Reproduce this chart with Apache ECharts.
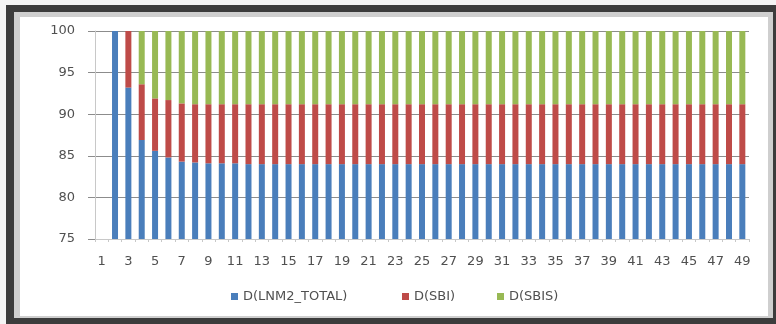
<!DOCTYPE html>
<html>
<head>
<meta charset="utf-8">
<script src="https://cdn.jsdelivr.net/npm/echarts@6/dist/echarts.min.js"></script>
<style>
  html, body { margin: 0; padding: 0; width: 776px; height: 324px; background: #f4f4f4; overflow: hidden; }
  .frame { position: absolute; left: 6px; top: 5px; right: 0; bottom: 0; background: #3c3c3c; }
  .bevel { position: absolute; left: 14px; top: 12px; right: 3px; bottom: 6px; background: #cfcfcf; }
  .panel { position: absolute; left: 20px; top: 17px; right: 8px; bottom: 8px; background: #ffffff; }
  #chart { position: absolute; left: 0; top: 0; width: 776px; height: 324px; }
</style>
</head>
<body>
<div class="frame"></div>
<div class="bevel"></div>
<div class="panel"></div>
<div id="chart"></div>
<script>
// Periods 1..49
const categories = [
  '1','2','3','4','5','6','7','8','9','10',
  '11','12','13','14','15','16','17','18','19','20',
  '21','22','23','24','25','26','27','28','29','30',
  '31','32','33','34','35','36','37','38','39','40',
  '41','42','43','44','45','46','47','48','49'
];

// Variance decomposition shares (percent), stacked to 100
const lnm2Total = [
  null, 100, 93.2, 86.9, 85.6, 84.8, 84.3, 84.2, 84.1, 84.1,
  84.1, 84.0, 84.0, 84.0, 84.0, 84.0, 84.0, 84.0, 84.0, 84.0,
  84.0, 84.0, 84.0, 84.0, 84.0, 84.0, 84.0, 84.0, 84.0, 84.0,
  84.0, 84.0, 84.0, 84.0, 84.0, 84.0, 84.0, 84.0, 84.0, 84.0,
  84.0, 84.0, 84.0, 84.0, 84.0, 84.0, 84.0, 84.0, 84.0
];
const sbi = [
  null, 0, 6.8, 6.7, 6.3, 6.9, 7.0, 7.0, 7.1, 7.1,
  7.1, 7.2, 7.2, 7.2, 7.2, 7.2, 7.2, 7.2, 7.2, 7.2,
  7.2, 7.2, 7.2, 7.2, 7.2, 7.2, 7.2, 7.2, 7.2, 7.2,
  7.2, 7.2, 7.2, 7.2, 7.2, 7.2, 7.2, 7.2, 7.2, 7.2,
  7.2, 7.2, 7.2, 7.2, 7.2, 7.2, 7.2, 7.2, 7.2
];
const sbis = [
  null, 0, 0, 6.4, 8.1, 8.3, 8.7, 8.8, 8.8, 8.8,
  8.8, 8.8, 8.8, 8.8, 8.8, 8.8, 8.8, 8.8, 8.8, 8.8,
  8.8, 8.8, 8.8, 8.8, 8.8, 8.8, 8.8, 8.8, 8.8, 8.8,
  8.8, 8.8, 8.8, 8.8, 8.8, 8.8, 8.8, 8.8, 8.8, 8.8,
  8.8, 8.8, 8.8, 8.8, 8.8, 8.8, 8.8, 8.8, 8.8
];

const seriesNames = ['D(LNM2_TOTAL)', 'D(SBI)', 'D(SBIS)'];
const seriesColors = ['#4a7ebb', '#be4b48', '#98b954'];
const yTicks = { min: 75, max: 100, step: 5 };

const labelFont = { fontFamily: 'DejaVu Sans', fontSize: 13, color: '#505050' };

const chart = echarts.init(document.getElementById('chart'), null, { renderer: 'canvas' });

function legendAt(name, left) {
  return {
    data: [name],
    left: left,
    top: 290,
    itemWidth: 7,
    itemHeight: 7,
    icon: 'rect',
    padding: 0,
    textStyle: Object.assign({}, labelFont, { fontSize: 13 })
  };
}

chart.setOption({
  animation: false,
  backgroundColor: 'transparent',
  color: seriesColors,
  grid: { left: 95, right: 27, top: 31, bottom: 85 },
  legend: [
    legendAt(seriesNames[0], 231),
    legendAt(seriesNames[1], 402),
    legendAt(seriesNames[2], 497)
  ],
  xAxis: {
    type: 'category',
    data: categories,
    boundaryGap: true,
    axisLine: { show: true, lineStyle: { color: '#c8c8c8', width: 1 } },
    axisTick: { show: true, interval: 0, length: 3, lineStyle: { color: '#c8c8c8' } },
    axisLabel: Object.assign({ interval: 1, margin: 16 }, labelFont),
    splitLine: { show: false }
  },
  yAxis: {
    type: 'value',
    min: yTicks.min,
    max: yTicks.max,
    interval: yTicks.step,
    axisLine: { show: true, lineStyle: { color: '#c8c8c8', width: 1 } },
    axisTick: { show: true, length: 7, lineStyle: { color: '#8c8c8c' } },
    axisLabel: Object.assign({ margin: 20 }, labelFont),
    splitLine: { show: true, lineStyle: { color: '#8c8c8c', width: 1 } }
  },
  series: [
    { name: seriesNames[0], type: 'bar', stack: 'total', data: lnm2Total, barWidth: 6 },
    { name: seriesNames[1], type: 'bar', stack: 'total', data: sbi, barWidth: 6 },
    { name: seriesNames[2], type: 'bar', stack: 'total', data: sbis, barWidth: 6 }
  ]
});
</script>
</body>
</html>
